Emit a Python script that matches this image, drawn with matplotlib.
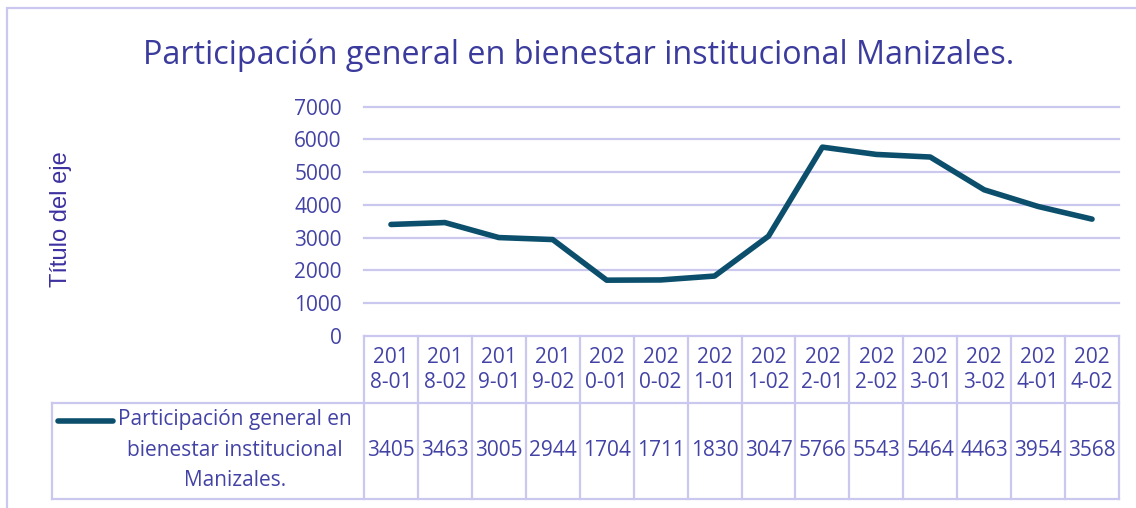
import matplotlib
matplotlib.use("Agg")
import matplotlib.pyplot as plt
from matplotlib.patches import Rectangle
from matplotlib.lines import Line2D

# data
periodos = ["2018-01", "2018-02", "2019-01", "2019-02", "2020-01", "2020-02", "2021-01",
            "2021-02", "2022-01", "2022-02", "2023-01", "2023-02", "2024-01", "2024-02"]
participacion = [3405, 3463, 3005, 2944, 1704, 1711, 1830, 3047, 5766, 5543, 5464, 4463, 3954, 3568]
yticks = [0, 1000, 2000, 3000, 4000, 5000, 6000, 7000]
serie = "Participación general en bienestar institucional Manizales."
serie_lineas = ["Participación general en", "bienestar institucional", "Manizales."]

W, H = 1136, 508
txt = "#4343a6"
grid = "#cbc8ef"
linec = "#0b4f6c"
font = "Open Sans"
fs = 15

fig = plt.figure(figsize=(W / 100, H / 100), dpi=100)

# outer chart border (runs off the right/bottom edge)
fig.patches.append(Rectangle((7 / W, -0.1), 1.2, (H - 8) / H + 0.1, transform=fig.transFigure,
                             fill=False, ec=grid, lw=1.6))

x0, x1, y0, y1 = 364, 1119, 336, 106.7
ax = fig.add_axes([x0 / W, (H - y0) / H, (x1 - x0) / W, (y0 - y1) / H])
n = len(periodos)
xs = list(range(n))
ax.set_xlim(-0.5, n - 0.5)
ax.set_ylim(0, 7000)
ax.set_yticks(yticks)
ax.set_yticklabels([str(v) for v in yticks], fontfamily=font, fontsize=fs, color=txt)
ax.tick_params(axis="y", length=0, pad=16)
ax.set_xticks([])
for s in ax.spines.values():
    s.set_visible(False)
for v in yticks:
    ax.axhline(v, color=grid, lw=1.6, clip_on=False, zorder=0)
ax.plot(xs, participacion, color=linec, lw=4, solid_joinstyle="round", solid_capstyle="round")

# axis title
fig.text(61 / W, (H - 219) / H, "Título del eje", rotation=90, ha="center", va="center",
         fontsize=17, fontfamily="Liberation Sans", color="#3d30a0")

# chart title, fitted to the reference width
t = fig.text(579 / W, (H - 55) / H, serie, ha="center", va="center",
             fontsize=21, fontfamily=font, color="#3b3b9e")
r = fig.canvas.get_renderer()
wpx = t.get_window_extent(r).width
t.set_fontsize(21 * 872 / wpx)

# data table below the plot, in x-data / axes-fraction coords
tr = ax.get_xaxis_transform()
ppu = (x1 - x0) / n
def fy(yp):
    return (y0 - yp) / (y0 - y1)

ytop, ymid, ybot = fy(336), fy(403), fy(499)
xl = -0.5 - (x0 - 52) / ppu
kw = dict(transform=tr, color=grid, lw=1.6, clip_on=False)
ax.add_line(Line2D([xl, n - 0.5], [ymid, ymid], **kw))
ax.add_line(Line2D([xl, n - 0.5], [ybot, ybot], **kw))
ax.add_line(Line2D([xl, xl], [ymid, ybot], **kw))
for i in range(n + 1):
    xb = i - 0.5
    ax.add_line(Line2D([xb, xb], [ytop, ybot], **kw))

for i, p in enumerate(periodos):
    ax.text(i, fy(370), p[:3] + "\n" + p[3:], transform=tr, ha="center", va="center",
            fontsize=fs, fontfamily=font, color=txt, linespacing=1.3, clip_on=False)
    ax.text(i, fy(450), str(participacion[i]), transform=tr, ha="center", va="center",
            fontsize=fs, fontfamily=font, color=txt, clip_on=False)

# legend key inside the table
lx0 = -0.5 - (x0 - 58) / ppu
lx1 = -0.5 - (x0 - 113) / ppu
ax.add_line(Line2D([lx0, lx1], [fy(421), fy(421)], transform=tr, color=linec, lw=4,
                   solid_capstyle="round", clip_on=False))
xc = -0.5 - (x0 - 235) / ppu
for k, s in enumerate(serie_lineas):
    ax.text(xc, fy(420 + 30 * k), s, transform=tr, ha="center", va="center",
            fontsize=fs, fontfamily=font, color=txt, clip_on=False)

fig.savefig("out.png", dpi=100)
